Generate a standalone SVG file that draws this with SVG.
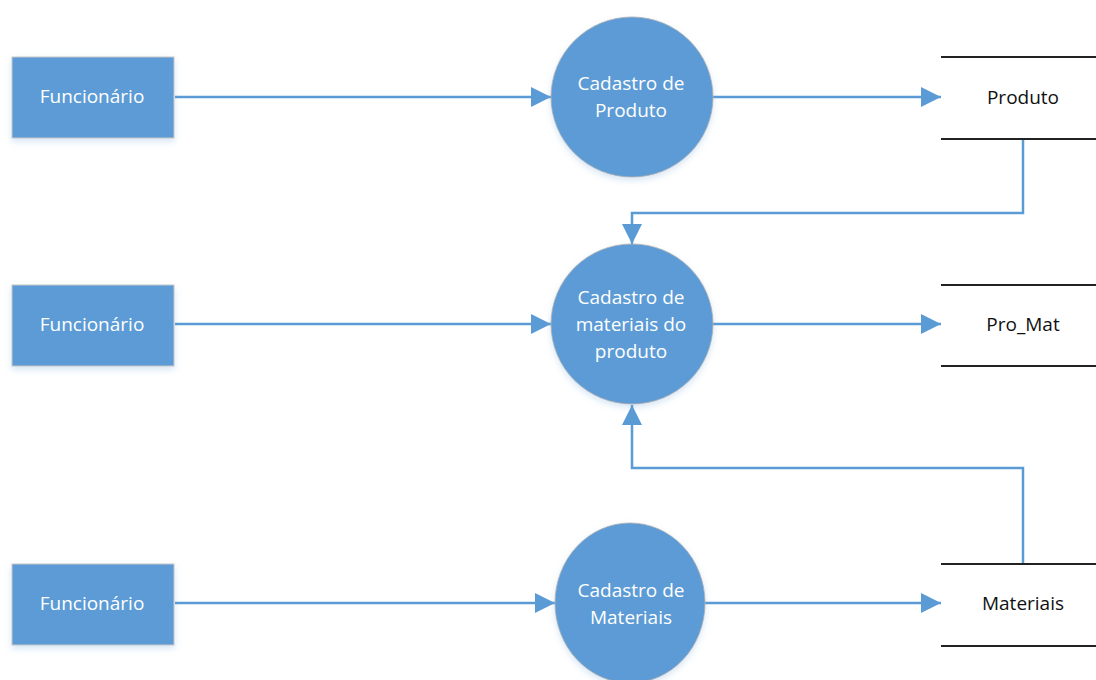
<svg xmlns="http://www.w3.org/2000/svg" width="1096" height="680" viewBox="0 0 1096 680">
<style>
.ent{fill:#5B9BD5;stroke:#c8c8c8;stroke-width:1}
.proc{fill:#5B9BD5;stroke:#b0b0b0;stroke-width:0.8}
.wt{font-family:"Open Sans",sans-serif;font-size:19px;fill:#ffffff;text-anchor:middle}
.bt{font-family:"Open Sans",sans-serif;font-size:19px;fill:#111111;text-anchor:middle}
.store{stroke:#222222;stroke-width:2}
.flow{fill:none;stroke:#5B9BD5;stroke-width:2.5}
</style>
<defs>
<marker id="a" viewBox="0 0 20 20" refX="20" refY="10" markerWidth="20" markerHeight="20" markerUnits="userSpaceOnUse" orient="auto">
<path d="M0,0 L20,10 L0,20 Z" fill="#5B9BD5"/>
</marker>
<filter id="sh" x="-20%" y="-20%" width="140%" height="150%">
<feDropShadow dx="0" dy="3" stdDeviation="3" flood-color="#5B9BD5" flood-opacity="0.25"/>
</filter>
</defs>
<rect width="1096" height="680" fill="#ffffff"/>
<g id="connectors">
<line class="flow" x1="175" y1="97" x2="551" y2="97" marker-end="url(#a)"/>
<line class="flow" x1="713" y1="97" x2="941" y2="97" marker-end="url(#a)"/>
<line class="flow" x1="175" y1="324" x2="551" y2="324" marker-end="url(#a)"/>
<line class="flow" x1="713" y1="324" x2="941" y2="324" marker-end="url(#a)"/>
<line class="flow" x1="175" y1="603" x2="555" y2="603" marker-end="url(#a)"/>
<line class="flow" x1="705" y1="603" x2="941" y2="603" marker-end="url(#a)"/>
<polyline class="flow" points="1023,139 1023,213 632,213 632,244" marker-end="url(#a)"/>
<polyline class="flow" points="1023,564 1023,468 632,468 632,405" marker-end="url(#a)"/>
</g>
<g id="func1">
<rect class="ent" x="12" y="57" width="162" height="81" filter="url(#sh)"/>
<text class="wt" x="92" y="103">Funcionário</text>
</g>
<g id="func2">
<rect class="ent" x="12" y="285" width="162" height="81" filter="url(#sh)"/>
<text class="wt" x="92" y="331">Funcionário</text>
</g>
<g id="func3">
<rect class="ent" x="12" y="564" width="162" height="81" filter="url(#sh)"/>
<text class="wt" x="92" y="610">Funcionário</text>
</g>
<g id="proc1">
<ellipse class="proc" cx="632" cy="97" rx="81" ry="80" filter="url(#sh)"/>
<text class="wt" x="631" y="90">Cadastro de</text>
<text class="wt" x="631" y="117">Produto</text>
</g>
<g id="proc2">
<ellipse class="proc" cx="632" cy="324" rx="81" ry="80" filter="url(#sh)"/>
<text class="wt" x="631" y="304">Cadastro de</text>
<text class="wt" x="631" y="331">materiais do</text>
<text class="wt" x="631" y="358">produto</text>
</g>
<g id="proc3">
<ellipse class="proc" cx="630" cy="603" rx="75" ry="80" filter="url(#sh)"/>
<text class="wt" x="631" y="597">Cadastro de</text>
<text class="wt" x="631" y="624">Materiais</text>
</g>
<g id="store1">
<line class="store" x1="941" y1="57" x2="1096" y2="57"/>
<line class="store" x1="941" y1="139" x2="1096" y2="139"/>
<text class="bt" x="1023" y="104">Produto</text>
</g>
<g id="store2">
<line class="store" x1="941" y1="285" x2="1096" y2="285"/>
<line class="store" x1="941" y1="366" x2="1096" y2="366"/>
<text class="bt" x="1023" y="331">Pro_Mat</text>
</g>
<g id="store3">
<line class="store" x1="941" y1="564" x2="1096" y2="564"/>
<line class="store" x1="941" y1="646" x2="1096" y2="646"/>
<text class="bt" x="1023" y="610">Materiais</text>
</g>
</svg>
